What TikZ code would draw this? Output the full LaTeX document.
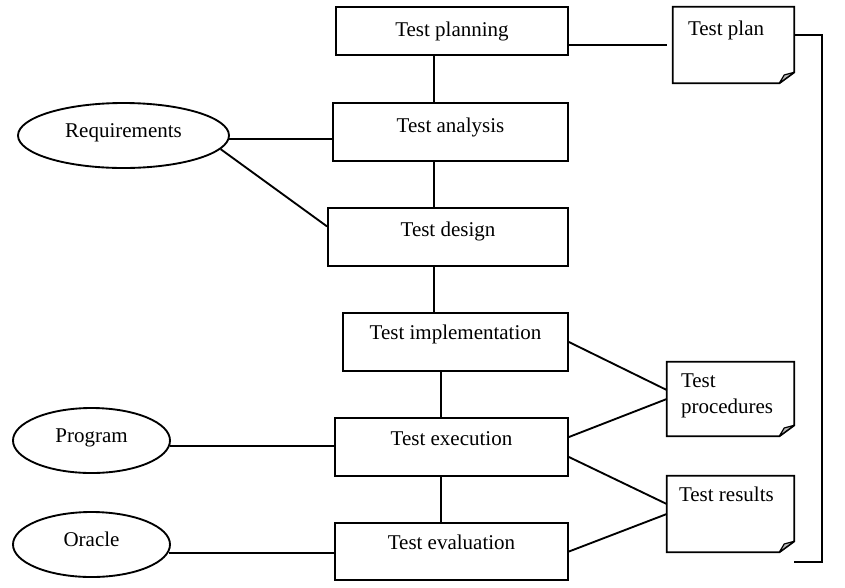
\documentclass[tikz,border=0pt]{standalone}
\usepackage{fontspec}
\setmainfont{Liberation Serif}
\usetikzlibrary{shapes.geometric,calc}
\begin{document}
\begin{tikzpicture}[x=0.75pt,y=-0.75pt,
  every node/.style={font=\fontsize{15.75pt}{19.5pt}\selectfont},
  ln/.style={line width=1.4pt},
  stepbox/.style n args={4}{draw,line width=1.4pt,rectangle,inner sep=0pt,
    minimum width=#1*0.75pt,minimum height=#2*0.75pt,
    text height=#3*0.75pt,text depth=#4*0.75pt},
  oval/.style n args={2}{draw,line width=1.4pt,ellipse,inner sep=0pt,
    minimum width=#1*0.75pt,minimum height=#2*0.75pt,
    text height=12pt,text depth=9.75pt},
  notebox/.style n args={2}{rectangle,inner sep=0pt,
    minimum width=#1*0.75pt,minimum height=#2*0.75pt},
  notetext/.style={inner sep=0pt,anchor=north west,align=left}
]
\useasboundingbox (0,0) rectangle (845,587);

% process boxes
\node[stepbox={232}{48}{29}{19}] (pla) at (452,31) {Test planning};
\node[stepbox={235}{58}{29}{29}] (ana) at (450.5,132) {Test analysis};
\node[stepbox={240}{58}{28}{30}] (des) at (448,237) {Test design};
\node[stepbox={225}{58}{26}{32}] (imp) at (455.5,342) {Test implementation};
\node[stepbox={233}{58}{27}{31}] (exe) at (451.5,447) {Test execution};
\node[stepbox={233}{57}{26}{31}] (eva) at (451.5,551.5) {Test evaluation};

% ellipses
\node[oval={211}{65}] (req) at (123.5,135.5) {Requirements};
\node[oval={157}{65}] (prog) at (91.5,440.5) {Program};
\node[oval={157}{65}] (orc) at (91.5,544.5) {Oracle};

% notes
\node[notebox={121}{76}] (n1) at (733.5,45) {};
\node[notebox={127}{74}] (n2) at (730.5,399) {};
\node[notebox={127}{76}] (n3) at (730.5,514) {};
\foreach \n in {n1,n2,n3}{
  \draw[ln,line join=miter] (\n.north west) -- (\n.north east) -- ([yshift=8.25pt]\n.south east)
     -- ([xshift=-11.25pt]\n.south east) -- (\n.south west) -- cycle;
  \draw[line width=0.9pt,fill=black!28,line join=round] ([xshift=-11.25pt]\n.south east) -- ([yshift=8.25pt]\n.south east)
     -- ([xshift=-7.5pt,yshift=6.25pt]\n.south east) -- cycle;
}
\node[notetext] (t1) at ([xshift=11.25pt,yshift=-10.5pt]n1.north west) {Test plan};
\node[notetext] (t2) at ([xshift=10.5pt,yshift=-9pt]n2.north west) {Test\\procedures};
\node[notetext] (t3) at ([xshift=9pt,yshift=-8.25pt]n3.north west) {Test results};

% vertical connectors
\coordinate (v1) at (434,0);
\coordinate (v2) at (441,0);
\draw[ln] (pla.south -| v1) -- (ana.north -| v1);
\draw[ln] (ana.south -| v1) -- (des.north -| v1);
\draw[ln] (des.south -| v1) -- (imp.north -| v1);
\draw[ln] (imp.south -| v2) -- (exe.north -| v2);
\draw[ln] (exe.south -| v2) -- (eva.north -| v2);

% inputs
\draw[ln] (req.-2.5) -- (req.-2.5 -| ana.west);
\draw[ln] (req.-8.8) -- (des.175.7);
\draw[ln] (prog.-4.8) -- (prog.-4.8 -| exe.west);
\draw[ln] (orc.-6.4) -- (orc.-6.4 -| eva.west);

% outputs
\draw[ln] (pla.east |- n1.west) -- ([xshift=-4.5pt]n1.west);
\draw[ln] (imp.east) -- ([yshift=6.75pt]n2.west);
\draw[ln] ([yshift=7.5pt]exe.east) -- (n2.west);
\draw[ln] ([yshift=-7.5pt]exe.east) -- ([yshift=7.5pt]n3.west);
\draw[ln] (eva.east) -- (n3.west);

% bracket
\draw[ln] ([yshift=7.5pt]n1.east) -- ++(21pt,0) |- ([yshift=-7.5pt]n3.south east);
\end{tikzpicture}
\end{document}
